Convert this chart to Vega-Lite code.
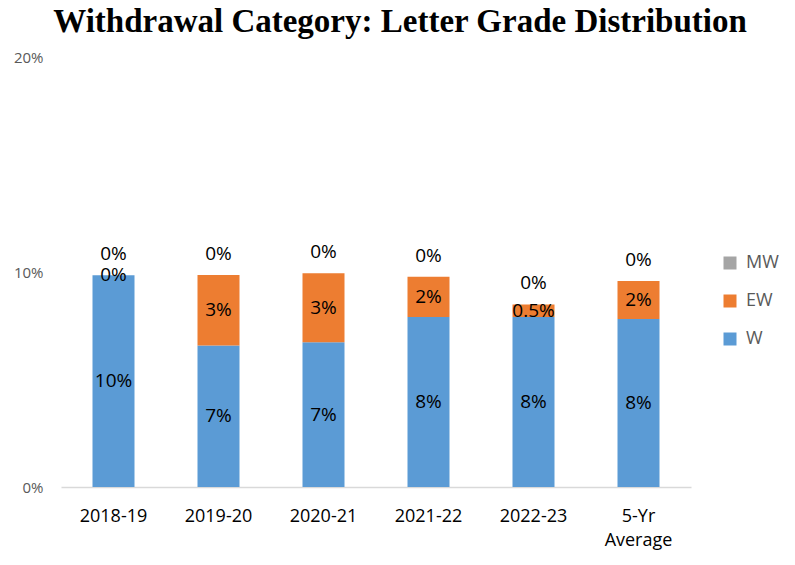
{
  "$schema": "https://vega.github.io/schema/vega-lite/v6.json",
  "width": 630,
  "height": 430,
  "autosize": {"type": "none"},
  "padding": {"left": 61, "top": 57, "right": 104, "bottom": 78},
  "background": "white",
  "title": {
    "text": "Withdrawal Category: Letter Grade Distribution",
    "font": "Liberation Serif",
    "fontSize": 33,
    "fontWeight": "bold",
    "color": "#000000",
    "anchor": "middle",
    "frame": "group",
    "offset": 11,
    "dx": 24
  },
  "config": {
    "view": {"stroke": null},
    "font": "Open Sans"
  },
  "data": {
    "values": [
      {"year": "2018-19", "category": "W", "ord": 1, "value": 0.0985, "label": "10%"},
      {"year": "2018-19", "category": "EW", "ord": 2, "value": 0.0, "label": "0%"},
      {"year": "2018-19", "category": "MW", "ord": 3, "value": 0.0, "label": "0%"},
      {"year": "2019-20", "category": "W", "ord": 1, "value": 0.0658, "label": "7%"},
      {"year": "2019-20", "category": "EW", "ord": 2, "value": 0.0328, "label": "3%"},
      {"year": "2019-20", "category": "MW", "ord": 3, "value": 0.0, "label": "0%"},
      {"year": "2020-21", "category": "W", "ord": 1, "value": 0.0673, "label": "7%"},
      {"year": "2020-21", "category": "EW", "ord": 2, "value": 0.0321, "label": "3%"},
      {"year": "2020-21", "category": "MW", "ord": 3, "value": 0.0, "label": "0%"},
      {"year": "2021-22", "category": "W", "ord": 1, "value": 0.0791, "label": "8%"},
      {"year": "2021-22", "category": "EW", "ord": 2, "value": 0.0187, "label": "2%"},
      {"year": "2021-22", "category": "MW", "ord": 3, "value": 0.0, "label": "0%"},
      {"year": "2022-23", "category": "W", "ord": 1, "value": 0.0791, "label": "8%"},
      {"year": "2022-23", "category": "EW", "ord": 2, "value": 0.0058, "label": "0.5%"},
      {"year": "2022-23", "category": "MW", "ord": 3, "value": 0.0, "label": "0%"},
      {"year": "5-Yr Average", "category": "W", "ord": 1, "value": 0.0781, "label": "8%"},
      {"year": "5-Yr Average", "category": "EW", "ord": 2, "value": 0.0177, "label": "2%"},
      {"year": "5-Yr Average", "category": "MW", "ord": 3, "value": 0.0, "label": "0%"}
    ]
  },
  "encoding": {
    "x": {
      "field": "year",
      "type": "nominal",
      "sort": null,
      "title": null,
      "scale": {"paddingInner": 0.6, "paddingOuter": 0.3},
      "axis": {
        "labelAngle": 0,
        "labelFont": "Open Sans",
        "labelFontSize": 18,
        "labelColor": "#000000",
        "labelPadding": 20,
        "labelExpr": "split(datum.label, ' ')",
        "labelLineHeight": 24,
        "ticks": false,
        "domainColor": "#D9D9D9",
        "domainWidth": 1.5,
        "grid": false
      }
    }
  },
  "layer": [
    {
      "mark": {"type": "bar"},
      "encoding": {
        "y": {
          "field": "value",
          "type": "quantitative",
          "stack": "zero",
          "title": null,
          "scale": {"domain": [0, 0.2]},
          "axis": {
            "values": [0, 0.1, 0.2],
            "format": ".0%",
            "labelFont": "Open Sans",
            "labelFontSize": 15,
            "labelColor": "#595959",
            "labelPadding": 18,
            "ticks": false,
            "domain": false,
            "grid": false
          }
        },
        "order": {"field": "ord", "type": "quantitative"},
        "color": {
          "field": "category",
          "type": "nominal",
          "scale": {"domain": ["MW", "EW", "W"], "range": ["#A5A5A5", "#ED7D31", "#5B9BD5"]},
          "legend": {
            "title": null,
            "orient": "none",
            "legendX": 660,
            "legendY": 197,
            "padding": 0,
            "symbolType": "square",
            "symbolSize": 169,
            "symbolStrokeWidth": 0,
            "labelFont": "Open Sans",
            "labelFontSize": 18,
            "labelColor": "#595959",
            "labelOffset": 7,
            "rowPadding": 20
          }
        }
      }
    },
    {
      "transform": [{"filter": "datum.category != 'MW'"}],
      "mark": {"type": "text", "font": "Open Sans", "fontSize": 19, "color": "#000000", "baseline": "middle"},
      "encoding": {
        "y": {"field": "value", "type": "quantitative", "stack": "zero", "bandPosition": 0.5},
        "order": {"field": "ord", "type": "quantitative"},
        "text": {"field": "label"}
      }
    },
    {
      "transform": [
        {"joinaggregate": [{"op": "sum", "field": "value", "as": "total"}], "groupby": ["year"]},
        {"filter": "datum.category == 'MW'"}
      ],
      "mark": {"type": "text", "font": "Open Sans", "fontSize": 19, "color": "#000000", "baseline": "middle", "dy": -21},
      "encoding": {
        "y": {"field": "total", "type": "quantitative"},
        "text": {"field": "label"}
      }
    }
  ]
}
